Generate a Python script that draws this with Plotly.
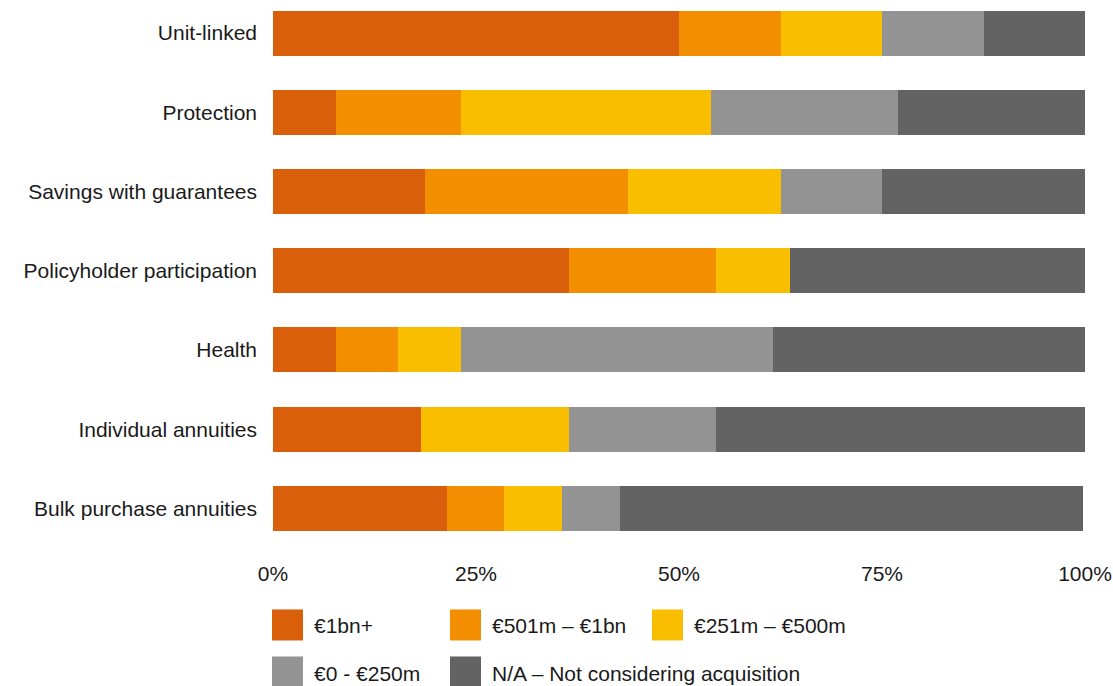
import plotly.graph_objects as go

categories = ["Unit-linked", "Protection", "Savings with guarantees",
              "Policyholder participation", "Health", "Individual annuities",
              "Bulk purchase annuities"]
series_names = ["€1bn+", "€501m – €1bn", "€251m – €500m", "€0 - €250m",
                "N/A – Not considering acquisition"]
bn1_plus = [50.0, 7.7, 18.75, 36.4, 7.7, 18.2, 21.4]
m501_1bn = [12.5, 15.4, 25.0, 18.2, 7.7, 0.0, 7.1]
m251_500 = [12.5, 30.8, 18.75, 9.1, 7.7, 18.2, 7.1]
m0_250 = [12.5, 23.1, 12.5, 0.0, 38.5, 18.2, 7.1]
not_considering = [12.5, 23.1, 25.0, 36.4, 38.5, 45.5, 57.1]
series_values = [bn1_plus, m501_1bn, m251_500, m0_250, not_considering]
colors = ["#D95F0A", "#F28E00", "#FABE00", "#939393", "#636363"]
x_ticks = [0, 25, 50, 75, 100]
x_ticktext = ["0%", "25%", "50%", "75%", "100%"]

W, H = 1113, 686
ML, MR, MT = 273, 28, 0
PLOT_BOTTOM = 547.6
MB = H - PLOT_BOTTOM
FONT = "Liberation Sans, Arial, Helvetica, sans-serif"

fig = go.Figure()
for name, vals, col in zip(series_names, series_values, colors):
    fig.add_trace(go.Bar(y=categories, x=vals, name=name, orientation="h",
                         marker=dict(color=col, line=dict(width=0)),
                         showlegend=False))

# custom legend (large square swatches), positions in page pixels
pw = W - ML - MR
ph = H - MT - MB
def px_x(p):
    return (p - ML) / pw
def px_y(p):
    return (PLOT_BOTTOM - p) / ph

legend_pos = [(272, 624.5, 624.7), (450, 624.5, 624.7), (652, 624.5, 624.7),
              (272, 671.5, 673.3), (450, 671.5, 673.3)]
shapes = []
annotations = []
for (lx, sy, ty), name, col in zip(legend_pos, series_names, colors):
    shapes.append(dict(type="rect", xref="paper", yref="paper",
                       x0=px_x(lx), x1=px_x(lx + 31), y0=px_y(sy + 15.5), y1=px_y(sy - 15.5),
                       fillcolor=col, line=dict(width=0)))
    annotations.append(dict(xref="paper", yref="paper", x=px_x(lx + 40), y=px_y(ty),
                            xanchor="left", yanchor="middle", text=name, showarrow=False,
                            font=dict(size=21, color="#1a1a1a", family=FONT)))

fig.update_layout(
    template="none",
    barmode="stack",
    bargap=0.432,
    width=W, height=H,
    margin=dict(l=ML, r=MR, t=MT, b=MB, pad=0),
    paper_bgcolor="white", plot_bgcolor="white",
    font=dict(family=FONT, size=21, color="#1a1a1a"),
    shapes=shapes, annotations=annotations,
    showlegend=False,
)
fig.update_xaxes(range=[0, 100], tickvals=x_ticks, ticktext=x_ticktext,
                 showgrid=False, zeroline=False, showline=False,
                 ticks="", ticklabelstandoff=11, automargin=False)
fig.update_yaxes(type="category", categoryorder="array", categoryarray=categories,
                 range=[6.5, -0.417], showgrid=False, zeroline=False, showline=False,
                 ticks="", ticklabelstandoff=15, automargin=False)

fig.write_html("out.html", config={"displayModeBar": False},
               post_script="document.body.style.margin='0';document.body.style.overflow='hidden';")
